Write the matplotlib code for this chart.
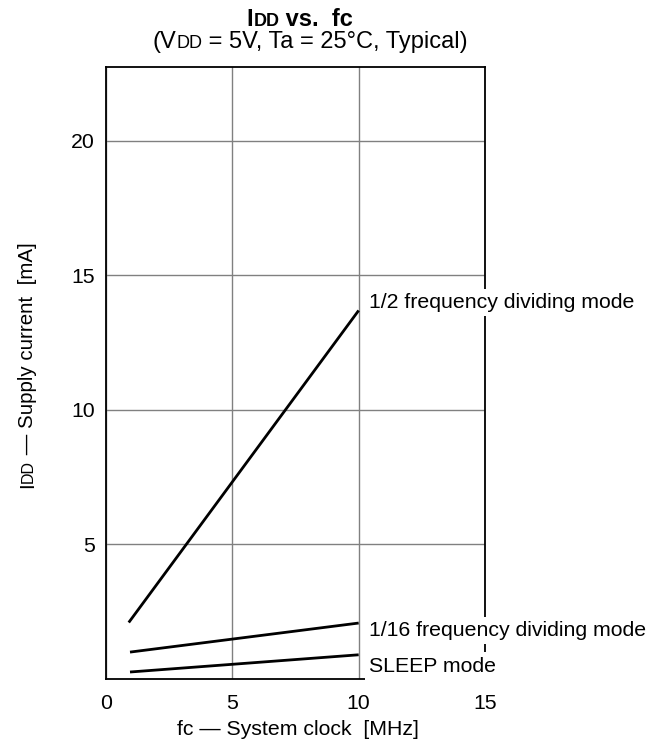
import numpy as np
import matplotlib.pyplot as plt

plt.rcParams['font.family'] = ['Liberation Sans', 'DejaVu Sans']

# data (fc in MHz, IDD in mA)
fc_half = [0.9, 10]
idd_half = [2.1, 13.7]
fc_16 = [0.95, 10]
idd_16 = [1.0, 2.08]
fc_sleep = [0.95, 10]
idd_sleep = [0.26, 0.9]

labels = ["1/2 frequency dividing mode", "1/16 frequency dividing mode", "SLEEP mode"]
label_y = [14.0, 1.8, 0.48]

x_ticks = [0, 5, 10, 15]
y_ticks = [5, 10, 15, 20]

FS = 15.3
W, H = 663, 746
fig = plt.figure(figsize=(W / 100, H / 100), dpi=100)
ax = fig.add_axes([106 / W, (H - 679) / H, (485 - 106) / W, (679 - 67) / H])

ax.plot(fc_half, idd_half, color='black', lw=2, solid_capstyle='butt')
ax.plot(fc_16, idd_16, color='black', lw=2, solid_capstyle='butt')
ax.plot(fc_sleep, idd_sleep, color='black', lw=2, solid_capstyle='butt')

ax.set_xlim(0, 15)
ax.set_ylim(0, 22.75)
ax.set_xticks(x_ticks)
ax.set_yticks(y_ticks)
ax.tick_params(length=0, labelsize=FS)
ax.tick_params(axis='x', pad=11)
ax.tick_params(axis='y', pad=8)
ax.grid(True, color='#808080', lw=1)
ax.set_axisbelow(True)
for s in ax.spines.values():
    s.set_linewidth(1.3)
    s.set_zorder(2.5)

for txt, yy in zip(labels, label_y):
    ax.text(10.4, yy, txt, fontsize=FS, ha='left', va='center', zorder=5,
            clip_on=False, bbox=dict(facecolor='white', edgecolor='none', pad=3))


def seg_text(x, y, parts, rotation=0):
    # parts: list of (string, fontsize, weight); x,y in reference pixels (from top)
    # x,y is the centre of the baseline
    renderer = fig.canvas.get_renderer()
    widths = []
    for s, size, wt in parts:
        t = fig.text(0, 0, s, fontsize=size, fontweight=wt)
        widths.append(t.get_window_extent(renderer).width)
        t.remove()
    total = sum(widths)
    pos = -total / 2
    for (s, size, wt), w in zip(parts, widths):
        if rotation == 0:
            px, py = x + pos, H - y
        else:
            px, py = x, H - y + pos
        fig.text(px / W, py / H, s, fontsize=size, fontweight=wt, rotation=rotation,
                 rotation_mode='anchor', ha='left', va='baseline')
        pos += w


seg_text(300, 26, [("I", 17, 'bold'), ("DD", 13, 'bold'), (" vs.  fc", 17, 'bold')])
seg_text(310, 48, [("(V", 17, 'normal'), ("DD", 13, 'normal'),
                   (" = 5V, Ta = 25°C, Typical)", 17, 'normal')])
seg_text(33, 365, [("I", 14.8, 'normal'), ("DD", 11.5, 'normal'),
                   (" — Supply current  [mA]", 14.8, 'normal')], rotation=90)
seg_text(298, 735, [("fc — System clock  [MHz]", FS, 'normal')])

fig.savefig("out.png", dpi=100)
